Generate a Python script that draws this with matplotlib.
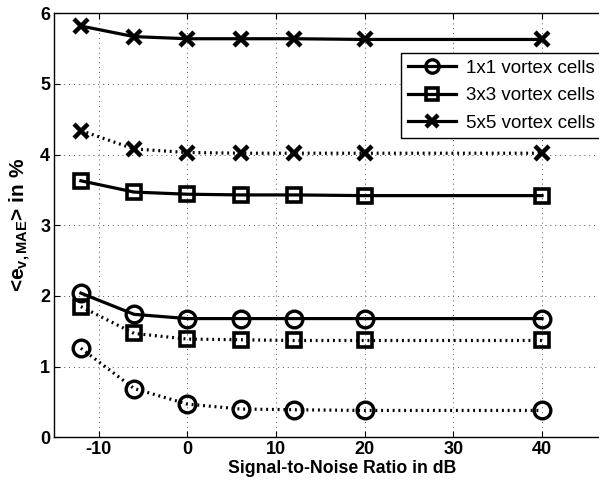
import matplotlib
matplotlib.use("Agg")
import matplotlib.pyplot as plt

plt.rcParams['font.family'] = ['Liberation Sans', 'DejaVu Sans']
plt.rcParams['mathtext.fontset'] = 'custom'
plt.rcParams['mathtext.rm'] = 'Liberation Sans:bold'
plt.rcParams['mathtext.it'] = 'Liberation Sans:bold'
plt.rcParams['mathtext.bf'] = 'Liberation Sans:bold'
plt.rcParams['mathtext.default'] = 'bf'
plt.rcParams['axes.unicode_minus'] = False

snr = [-12, -6, 0, 6, 12, 20, 40]
solid_1x1 = [2.04, 1.74, 1.68, 1.68, 1.68, 1.68, 1.68]
solid_3x3 = [3.63, 3.47, 3.44, 3.43, 3.43, 3.42, 3.42]
solid_5x5 = [5.82, 5.67, 5.64, 5.64, 5.64, 5.63, 5.63]
dotted_1x1 = [1.26, 0.69, 0.47, 0.40, 0.39, 0.38, 0.38]
dotted_3x3 = [1.85, 1.47, 1.39, 1.38, 1.37, 1.37, 1.37]
dotted_5x5 = [4.34, 4.08, 4.03, 4.02, 4.02, 4.02, 4.02]
labels = ['1x1 vortex cells', '3x3 vortex cells', '5x5 vortex cells']
xticks = [-10, 0, 10, 20, 30, 40]
yticks = [0, 1, 2, 3, 4, 5, 6]

fig = plt.figure(figsize=(5.99, 4.88), dpi=100)
ax = fig.add_axes([54.3/599, 1-437.3/488, (630.7-54.3)/599, 424/488])

dot = (0, (0.6, 1.2))
common = dict(color='black', lw=2.3, mfc='none', mec='black')
ax.plot(snr, solid_1x1, '-', marker='o', ms=12, mew=2.4, label=labels[0], **common)
ax.plot(snr, solid_3x3, '-', marker='s', ms=10, mew=2.6, label=labels[1], **common)
ax.plot(snr, solid_5x5, '-', marker='x', ms=10, mew=3.2, label=labels[2], **common)
ax.plot(snr, dotted_1x1, linestyle=dot, marker='o', ms=12, mew=2.4, **common)
ax.plot(snr, dotted_3x3, linestyle=dot, marker='s', ms=10, mew=2.6, **common)
ax.plot(snr, dotted_5x5, linestyle=dot, marker='x', ms=10, mew=3.2, **common)

ax.set_xlim(-15, 50)
ax.set_ylim(0, 6)
ax.set_xticks(xticks)
ax.set_yticks(yticks)
ax.grid(True, linestyle=(0, (1, 4)), color='#555555', linewidth=0.7)
ax.tick_params(direction='in', length=4, width=0.8, top=True, right=True,
               labelsize=13, pad=3)
for lab in ax.get_xticklabels() + ax.get_yticklabels():
    lab.set_fontweight('bold')
for s in ax.spines.values():
    s.set_linewidth(1.0)

ax.set_xlabel('Signal-to-Noise Ratio in dB', fontsize=12.7, fontweight='bold', labelpad=1)
ax.set_ylabel('<e$_{v,MAE}$> in %', fontsize=15, fontweight='bold', labelpad=5)

leg = ax.legend(loc='upper left', bbox_to_anchor=(401/599, 1-53/488),
                bbox_transform=fig.transFigure, borderaxespad=0, numpoints=1,
                fontsize=13.5, handlelength=2.6, markerscale=0.8, fancybox=False,
                edgecolor='black', framealpha=1, borderpad=0.35, labelspacing=0.55,
                handletextpad=0.5)
leg.get_frame().set_linewidth(1.0)

fig.savefig('out.png', dpi=100)
